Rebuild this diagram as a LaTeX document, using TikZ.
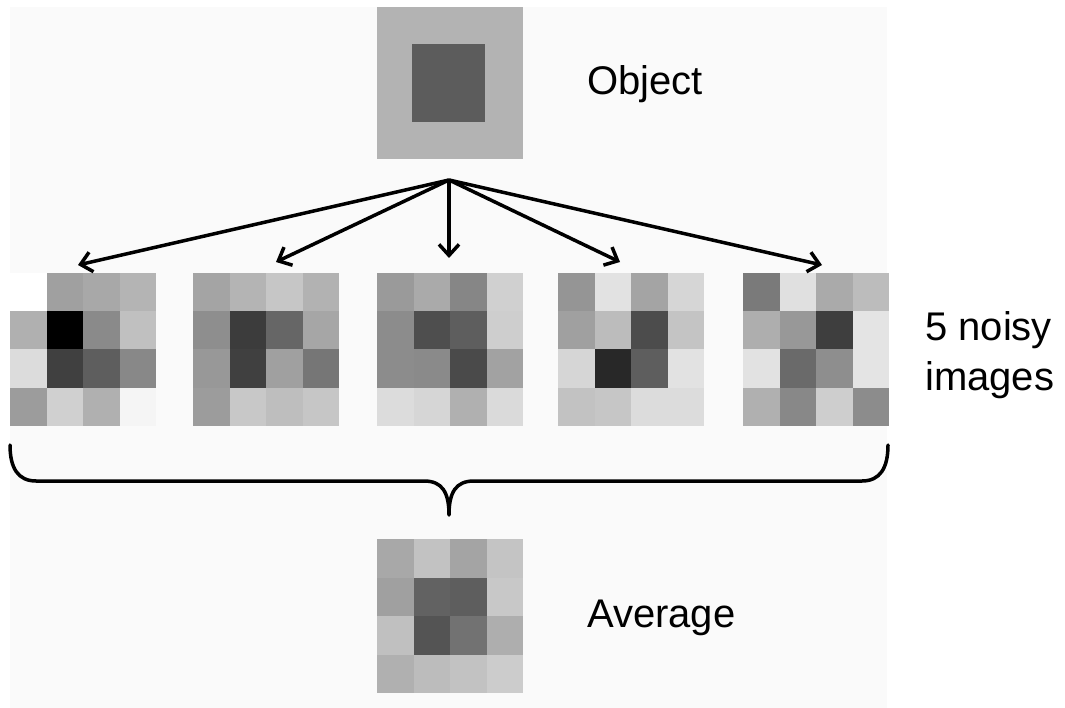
\documentclass[tikz,border=0pt]{standalone}
\usepackage{fontspec}
\setmainfont{Liberation Sans}
\usetikzlibrary{arrows.meta}
\definecolor{bgc}{RGB}{250,250,250}
\definecolor{objout}{RGB}{179,179,179}
\definecolor{objin}{RGB}{92,92,92}
\newcommand\pixgrid[5]{%
  \foreach \v [count=\i from 0] in {#5} {%
    \pgfmathtruncatemacro\cc{mod(\i,4)}%
    \pgfmathtruncatemacro\rr{div(\i,4)}%
    \fill[fill={rgb,255:red,\v;green,\v;blue,\v}] ({#1+\cc*#3/4},{#2+\rr*#4/4}) rectangle ++({#3/4},{#4/4});
  }}
\tikzset{
  imgbox/.style={minimum width=146pt,minimum height=153pt,inner sep=0pt,outer sep=0pt},
  ray/.style={line width=3.5pt,-{Straight Barb[length=11pt,width=20pt,line width=3.5pt]}},
  brace/.style={line width=3.5pt,line cap=round,line join=round},
  lbl/.style={font=\fontsize{40}{50}\selectfont,inner sep=0pt,text=black}
}
\begin{document}
\begin{tikzpicture}[x=1pt,y=-1pt]
\useasboundingbox (0,0) rectangle (1065,708);
\fill[bgc] (10,7) rectangle (887,708);
% object
\node[imgbox,minimum height=152pt,fill=objout] (obj) at (449.5,83) {};
\fill[objin] (412,44) rectangle (485,122);
\node[lbl,anchor=base west] (objlbl) at (587,95) {Object};
% noisy images
\node[imgbox] (img1) at (83,349.5) {};
\pixgrid{10}{273}{146}{153}{255,160,168,180, 176,0,138,192, 220,64,94,136, 156,208,176,245}
\node[imgbox] (img2) at (266,349.5) {};
\pixgrid{193}{273}{146}{153}{164,180,198,178, 142,60,102,166, 152,64,160,118, 156,200,190,198}
\node[imgbox] (img3) at (450,349.5) {};
\pixgrid{377}{273}{146}{153}{154,170,134,208, 140,78,94,206, 140,138,74,162, 220,214,176,218}
\node[imgbox] (img4) at (631,349.5) {};
\pixgrid{558}{273}{146}{153}{149,226,164,214, 160,188,76,196, 214,40,94,226, 194,198,220,220}
\node[imgbox] (img5) at (816,349.5) {};
\pixgrid{743}{273}{146}{153}{122,224,170,188, 174,152,62,228, 226,106,142,228, 176,136,206,140}
\node[lbl,anchor=north west,align=left] (noisylbl) at (925,311) {5 noisy\\images};
% average
\node[imgbox,minimum height=154pt] (avg) at (450,616) {};
\pixgrid{377}{539}{146}{154}{168,194,164,196, 160,98,94,200, 192,84,114,174, 176,188,194,204}
\node[lbl,anchor=base west] (avglbl) at (587,627) {Average};
% arrows
\coordinate (src) at (449,180);
\coordinate (t1) at (78,265);
\coordinate (t2) at (276,262);
\coordinate (t3) at (449,258);
\coordinate (t4) at (620,262);
\coordinate (t5) at (822,265);
\foreach \k in {1,...,5} \draw[ray] (src) -- (t\k);
% brace
\coordinate (bl) at (10,445);
\coordinate (bm) at (449,515);
\coordinate (br) at (888,445);
\draw[brace] (bl) .. controls (10,468) and (18,481) .. (36,481) -- (424,481)
  .. controls (442,481) and (449,492) .. (bm)
  .. controls (449,492) and (456,481) .. (474,481) -- (862,481)
  .. controls (880,481) and (888,468) .. (br);
\end{tikzpicture}
\end{document}
